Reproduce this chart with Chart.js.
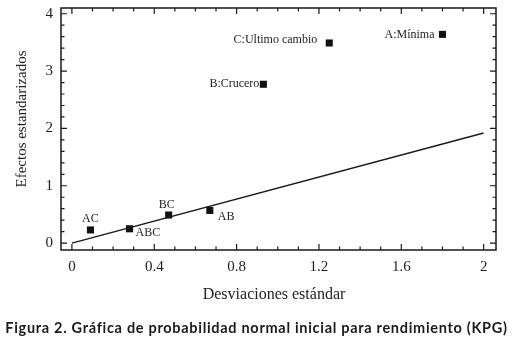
<!DOCTYPE html>
<html>
<head>
<meta charset="utf-8">
<script src="https://cdn.jsdelivr.net/npm/chart.js@4"></script>
<style>
    html, body { margin: 0; padding: 0; background: #fff; }
    #wrap { position: relative; width: 513px; height: 337px; }
    #caption {
        position: absolute; left: 0; top: 319px; width: 513px; line-height: 1;
        text-align: center; font: bold 14.5px Lato, "Open Sans", sans-serif; color: #1a1a1a;
        letter-spacing: 0.7px; white-space: nowrap;
    }
</style>
</head>
<body>
<div id="wrap">
    <canvas id="npChart" width="513" height="337"></canvas>
    <div id="caption">Figura 2. Gráfica de probabilidad normal inicial para rendimiento (KPG)</div>
</div>
<script>
/* ------- 数据 ------- */
const effectNames = ['AC', 'ABC', 'BC', 'AB', 'B:Crucero', 'C:Ultimo cambio', 'A:Mínima'];
const deviations = [0.09, 0.28, 0.47, 0.67, 0.93, 1.25, 1.80];
const effects = [0.23, 0.25, 0.49, 0.57, 2.77, 3.49, 3.64];

const lineX = [0, 2];
const lineY = [0, 1.92];

const xMajorTicks = [0, 0.4, 0.8, 1.2, 1.6, 2];
const xTickLabels = ['0', '0.4', '0.8', '1.2', '1.6', '2'];
const yMajorTicks = [0, 1, 2, 3, 4];
const yTickLabels = ['0', '1', '2', '3', '4'];

// 标签相对于点的像素偏移 / 对齐方式
const labelPlace = [
    { dx: 0, dy: -11, align: 'center' },
    { dx: 6, dy: 4, align: 'left' },
    { dx: -2, dy: -10, align: 'center' },
    { dx: 8, dy: 6, align: 'left' },
    { dx: -4, dy: 0, align: 'right' },
    { dx: -12, dy: -3, align: 'right' },
    { dx: -8, dy: 0, align: 'right' },
];

// 次刻度：x 每 0.1，y 每 0.2
const xMinorTicks = [];
for (let i = 0; i <= 20; i++) xMinorTicks.push(i / 10);
const yMinorTicks = [];
for (let i = 0; i <= 20; i++) yMinorTicks.push(i * 2 / 10);

const INK = '#1a1a1a';
const SERIF = '"Liberation Serif", "DejaVu Serif", serif';

function isMajor(list, v) {
    return list.findIndex(m => Math.abs(m - v) < 1e-6);
}

/* ------- 插件：边框、向内刻度、轴标题、点标签 ------- */
const framePlugin = {
    id: 'frame',
    afterDraw(chart) {
        const { ctx, chartArea: a, scales: { x, y } } = chart;
        ctx.save();
        ctx.strokeStyle = INK;
        ctx.lineWidth = 1.5;
        ctx.strokeRect(a.left, a.top, a.right - a.left, a.bottom - a.top);

        ctx.lineWidth = 1.2;
        ctx.beginPath();
        xMinorTicks.forEach(v => {
            const px = x.getPixelForValue(v);
            const len = isMajor(xMajorTicks, v) >= 0 ? 6 : 3.5;
            ctx.moveTo(px, a.bottom); ctx.lineTo(px, a.bottom - len);
            ctx.moveTo(px, a.top); ctx.lineTo(px, a.top + len);
        });
        yMinorTicks.forEach(v => {
            const py = y.getPixelForValue(v);
            const len = isMajor(yMajorTicks, v) >= 0 ? 6 : 3.5;
            ctx.moveTo(a.left, py); ctx.lineTo(a.left + len, py);
            ctx.moveTo(a.right, py); ctx.lineTo(a.right - len, py);
        });
        ctx.stroke();

        // 轴标题
        ctx.fillStyle = '#222';
        ctx.textAlign = 'center';
        ctx.textBaseline = 'middle';
        ctx.font = '16px ' + SERIF;
        ctx.fillText('Desviaciones estándar', 274, 295);
        ctx.save();
        ctx.translate(22, 119);
        ctx.rotate(-Math.PI / 2);
        ctx.font = '15px ' + SERIF;
        ctx.fillText('Efectos estandarizados', 0, 0);
        ctx.restore();

        // 点标签
        ctx.font = '12px ' + SERIF;
        effectNames.forEach((name, i) => {
            const p = labelPlace[i];
            ctx.textAlign = p.align;
            ctx.fillText(name, x.getPixelForValue(deviations[i]) + p.dx, y.getPixelForValue(effects[i]) + p.dy);
        });
        ctx.restore();
    }
};

new Chart(document.getElementById('npChart'), {
    type: 'scatter',
    data: {
        datasets: [
            {
                type: 'line',
                data: lineX.map((v, i) => ({ x: v, y: lineY[i] })),
                borderColor: INK,
                borderWidth: 1.5,
                pointRadius: 0,
                fill: false,
            },
            {
                data: deviations.map((v, i) => ({ x: v, y: effects[i] })),
                pointStyle: 'rect',
                pointRadius: 5,
                backgroundColor: '#111',
                borderColor: '#111',
                borderWidth: 0,
            }
        ]
    },
    options: {
        responsive: false,
        animation: false,
        layout: { padding: { left: 0, top: 8, right: 17, bottom: 0 } },
        plugins: { legend: { display: false }, tooltip: { enabled: false } },
        scales: {
            x: {
                type: 'linear',
                min: -0.053,
                max: 2.06,
                afterBuildTicks: s => { s.ticks = xMajorTicks.map(v => ({ value: v })); },
                afterFit: s => { s.height = 87; },
                grid: { display: false, drawTicks: false },
                border: { display: false },
                ticks: {
                    padding: 8,
                    color: '#222',
                    font: { family: SERIF, size: 15 },
                    maxRotation: 0,
                    autoSkip: false,
                    callback: v => { const k = isMajor(xMajorTicks, v); return k >= 0 ? xTickLabels[k] : ''; }
                }
            },
            y: {
                min: -0.12,
                max: 4.1,
                afterBuildTicks: s => { s.ticks = yMajorTicks.map(v => ({ value: v })); },
                // 标签内边距会把绘图区顶部往下推，这里压回去
                afterFit: s => { s.width = 61; s.paddingTop = 0; s.paddingBottom = 0; },
                grid: { display: false, drawTicks: false },
                border: { display: false },
                ticks: {
                    padding: 8,
                    color: '#222',
                    font: { family: SERIF, size: 15 },
                    callback: v => { const k = isMajor(yMajorTicks, v); return k >= 0 ? yTickLabels[k] : ''; }
                }
            }
        }
    },
    plugins: [framePlugin]
});
</script>
</body>
</html>
